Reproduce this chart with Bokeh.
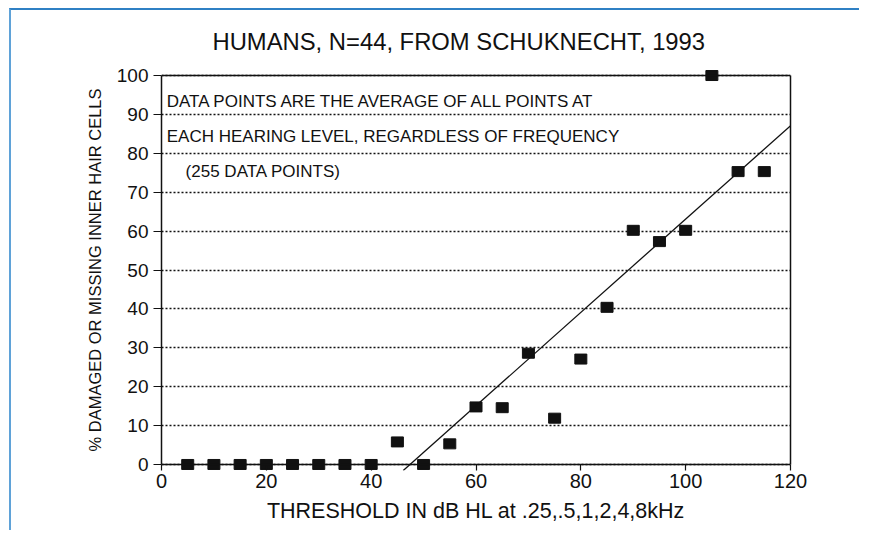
from bokeh.plotting import figure
from bokeh.models import (Range1d, LinearAxis, SingleIntervalTicker, Span, Slope, Label,
                          ColumnDataSource, FixedTicker)
from bokeh.embed import file_html
from bokeh.resources import INLINE

# ---- data ----
thresholds = [5, 10, 15, 20, 25, 30, 35, 40, 45, 50, 55, 60, 65, 70, 75, 80, 85, 90, 95, 100, 105, 110, 115]
pct_damaged = [0, 0, 0, 0, 0, 0, 0, 0, 5.8, 0, 5.3, 14.8, 14.6, 28.6, 11.9, 27.1, 40.4, 60.2, 57.3, 60.2, 100, 75.3, 75.3]
fit_gradient = 1.2
fit_intercept = -56.9
x_ticks = [0, 20, 40, 60, 80, 100, 120]
notes = ["DATA POINTS ARE THE AVERAGE OF ALL POINTS AT",
         "EACH HEARING LEVEL, REGARDLESS OF FREQUENCY",
         "(255 DATA POINTS)"]

FONT = "Liberation Sans"
INK = "#111111"

p = figure(width=850, height=522, output_backend="svg", toolbar_location=None,
           x_range=Range1d(0, 120), y_range=Range1d(-1.55, 101.55),
           min_border_left=150, min_border_right=71, min_border_top=59, min_border_bottom=62,
           title="HUMANS, N=44, FROM SCHUKNECHT, 1993")
p.styles = {"margin-left": "9px", "margin-top": "8px",
            "border-top": "2px solid #2f80c4", "border-left": "2px solid #5fa2d8"}
p.title.align = "left"
p.title.offset = 51
p.title.text_font = FONT
p.title.text_font_size = "23.8px"
p.title.text_font_style = "normal"
p.title.text_color = INK
p.title.standoff = 30
p.outline_line_color = None
p.background_fill_color = "white"
p.border_fill_color = "white"

# axes
p.xaxis.ticker = FixedTicker(ticks=x_ticks)
p.yaxis.ticker = SingleIntervalTicker(interval=10)
p.yaxis.bounds = (0, 100)
for ax in (p.xaxis[0], p.yaxis[0]):
    ax.axis_line_color = INK
    ax.axis_line_width = 1.5
    ax.major_tick_line_color = INK
    ax.major_tick_line_width = 1.2
    ax.minor_tick_line_color = None
    ax.major_label_text_font = FONT
    ax.major_label_text_color = INK
    ax.axis_label_text_font = FONT
    ax.axis_label_text_font_style = "normal"
    ax.axis_label_text_color = INK
# x axis: line drawn at y=0 by a span; ticks reach up from the frame edge to y=0
p.xaxis.axis_line_color = None
p.xaxis.major_tick_in = 6
p.xaxis.major_tick_out = 0
p.xaxis.major_label_text_font_size = "20px"
p.xaxis.axis_label = "THRESHOLD IN dB HL at .25,.5,1,2,4,8kHz"
p.xaxis.axis_label_text_font_size = "21.5px"
p.xaxis.major_label_standoff = 3
p.xaxis.axis_label_standoff = 8
p.yaxis.major_tick_out = 8
p.yaxis.major_tick_in = 0
p.yaxis.major_label_text_font_size = "19px"
p.yaxis.axis_label = "% DAMAGED OR MISSING INNER HAIR CELLS"
p.yaxis.axis_label_text_font_size = "16.5px"
p.yaxis.major_label_standoff = 5
p.yaxis.axis_label_standoff = 10

right_axis = LinearAxis(bounds=(0, 100), ticker=FixedTicker(ticks=[]),
                        major_tick_line_color=None, minor_tick_line_color=None,
                        axis_line_color=INK, axis_line_width=1.5)
p.add_layout(right_axis, "right")

# grid
p.xgrid.grid_line_color = None
p.ygrid.grid_line_color = INK
p.ygrid.grid_line_dash = "2 2"
p.ygrid.grid_line_width = 1.3

p.add_layout(Span(location=100, dimension="width", line_color=INK, line_width=1.5))
p.add_layout(Span(location=0, dimension="width", line_color=INK, line_width=1.5))

# fit line
p.add_layout(Slope(gradient=fit_gradient, y_intercept=fit_intercept, line_color=INK, line_width=1.3))

# points
src = ColumnDataSource(dict(x=thresholds, y=pct_damaged))
p.rect(x="x", y="y", width=12, height=10, width_units="screen", height_units="screen",
       source=src, fill_color=INK, line_color=INK)

# notes
for txt, xx, yy in zip(notes, [1, 1, 4.6], [93.3, 84.3, 75.2]):
    p.add_layout(Label(x=xx, y=yy, text=txt, text_font=FONT, text_font_size="17px",
                       text_baseline="middle", text_color=INK))

open("out.html", "w").write(file_html(p, INLINE))
